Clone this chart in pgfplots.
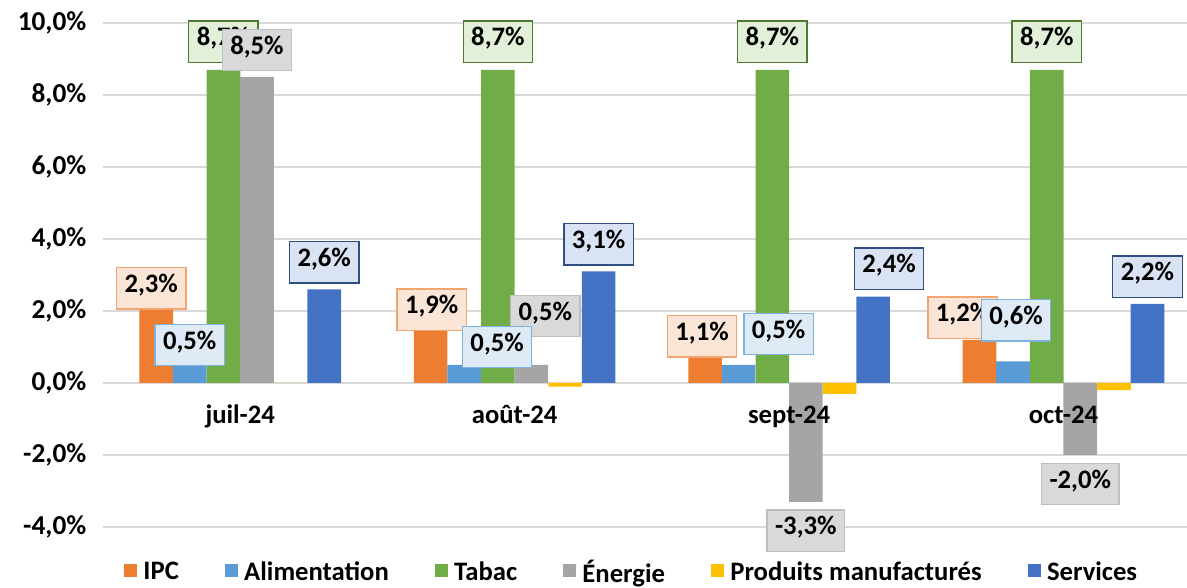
\documentclass[border=0pt]{standalone}
\usepackage{fontspec}
\setmainfont{Carlito}
\usepackage{pgfplots}
\usepackage{pgfplotstable}
\pgfplotsset{compat=1.18}
\definecolor{cIPC}{HTML}{ED7D31}
\definecolor{cAli}{HTML}{5B9BD5}
\definecolor{cTab}{HTML}{70AD47}
\definecolor{cEne}{HTML}{A5A5A5}
\definecolor{cPro}{HTML}{FFC000}
\definecolor{cSer}{HTML}{4472C4}
\definecolor{fIPC}{HTML}{FBE5D6}
\definecolor{bIPC}{HTML}{F4A46E}
\definecolor{fAli}{HTML}{DEEBF7}
\definecolor{bAli}{HTML}{7FB2E0}
\definecolor{fTab}{HTML}{E2F0D9}
\definecolor{bTab}{HTML}{4E7A32}
\definecolor{fEne}{HTML}{D9D9D9}
\definecolor{bEne}{HTML}{BFBFBF}
\definecolor{fSer}{HTML}{DAE3F3}
\definecolor{bSer}{HTML}{2F4F84}
\definecolor{gridgray}{HTML}{D9D9D9}
\newcommand{\lbf}{\bfseries\fontsize{20}{23}\selectfont}
\newcommand{\tbf}{\bfseries\fontsize{20.5}{23}\selectfont}

% x  y  dx dy (pt offsets of label centre from bar end)
\pgfplotstableread{
x y dx dy
-0.306 2.3 -3.75 9
0.694 1.9 0.75 3.75
1.694 1.1 -2.25 5.25
2.694 1.2 -12.75 16.5
}\ipc
\pgfplotstableread{
x y dx dy
-0.184 0.5 0 15
0.816 0.5 24.75 13.5
1.816 0.5 30 23.25
2.816 0.6 2.25 30.75
}\ali
\pgfplotstableread{
x y dx dy
-0.061 8.7 0 21
0.939 8.7 0 21
1.939 8.7 0 21
2.939 8.7 0 21
}\tab
\pgfplotstableread{
x y dx dy
0.061 8.5 0 20.25
1.061 0.5 10.5 36.75
2.061 -3.3 0 -21.75
3.061 -2.0 0 -21.75
}\ene
\pgfplotstableread{
x y
0.184 0
1.184 -0.1
2.184 -0.3
3.184 -0.2
}\pro
\pgfplotstableread{
x y dx dy
0.306 2.6 0 20.25
1.306 3.1 0 20.25
2.306 2.4 12 21
3.306 2.2 0 20.25
}\ser
\pgfplotstableread{
x y lab
0 0 juil-24
1 0 août-24
2 0 sept-24
3 0 oct-24
}\cats

\pgfplotsset{
  mybar/.style={ybar, bar shift=0pt, bar width=0.1225, draw=none, fill=#1,
    legend image code/.code={\fill[fill=#1] (0pt,-4pt) rectangle (10pt,6pt);}},
  mylbl/.style 2 args={draw=none, mark=none, forget plot, point meta=y,
    visualization depends on={\thisrow{dx}\as\dx},
    visualization depends on={\thisrow{dy}\as\dy},
    nodes near coords={\pgfmathprintnumber{\pgfplotspointmeta}\%},
    every node near coord/.append style={font=\lbf, draw=#1, fill=#2, line width=1pt,
      anchor=center, inner xsep=6pt, inner ysep=0pt, minimum height=31pt,
      text height=0.62em, text depth=0pt, xshift=\dx pt, yshift=\dy pt}},
}

\begin{document}
\begin{tikzpicture}
\begin{axis}[
  scale only axis, width=813pt, height=378pt,
  xmin=-0.5, xmax=3.45, ymin=-4, ymax=10,
  clip=false,
  axis line style={draw=none}, tick style={draw=none},
  major tick length=0pt,
  ytick={-4,-2,...,10},
  ymajorgrids, grid style={draw=gridgray, line width=1.1pt},
  /pgf/number format/.cd, use comma, fixed, fixed zerofill, precision=1, assume math mode=true,
  /pgfplots/.cd,
  yticklabel={\pgfmathprintnumber{\tick}\%},
  yticklabel style={font=\tbf, anchor=east, xshift=-9pt},
  xtick=\empty,
  legend columns=6,
  legend style={at={(0.488,-0.089)}, anchor=center, draw=none, fill=none,
    font=\lbf,
    /tikz/every odd column/.append style={column sep=2.5pt},
    /tikz/every even column/.append style={column sep=32.5pt}},
]
\addplot[mybar=cIPC] table[x=x,y=y] \ipc; \addlegendentry{IPC}
\addplot[mybar=cAli] table[x=x,y=y] \ali; \addlegendentry{Alimentation}
\addplot[mybar=cTab] table[x=x,y=y] \tab; \addlegendentry{Tabac}
\addplot[mybar=cEne] table[x=x,y=y] \ene; \addlegendentry{Énergie}
\addplot[mybar=cPro] table[x=x,y=y] \pro; \addlegendentry{Produits manufacturés}
\addplot[mybar=cSer] table[x=x,y=y] \ser; \addlegendentry{Services}

\addplot[draw=none, mark=none, forget plot, point meta=explicit symbolic,
  nodes near coords, every node near coord/.append style={font=\lbf, anchor=base, yshift=-30.75pt, inner sep=0pt}]
  table[x=x, y=y, meta=lab] \cats;

\addplot[mylbl={bIPC}{fIPC}] table[x=x,y=y] \ipc;
\addplot[mylbl={bTab}{fTab}] table[x=x,y=y] \tab;
\addplot[mylbl={bEne}{fEne}] table[x=x,y=y] \ene;
\addplot[mylbl={bAli}{fAli}] table[x=x,y=y] \ali;
\addplot[mylbl={bSer}{fSer}] table[x=x,y=y] \ser;
\end{axis}
\pgfresetboundingbox
\path[use as bounding box] ([shift={(-77.25pt,-45.75pt)}]current axis.south west) rectangle ([shift={(0pt,17.25pt)}]current axis.north east);
\end{tikzpicture}
\end{document}
